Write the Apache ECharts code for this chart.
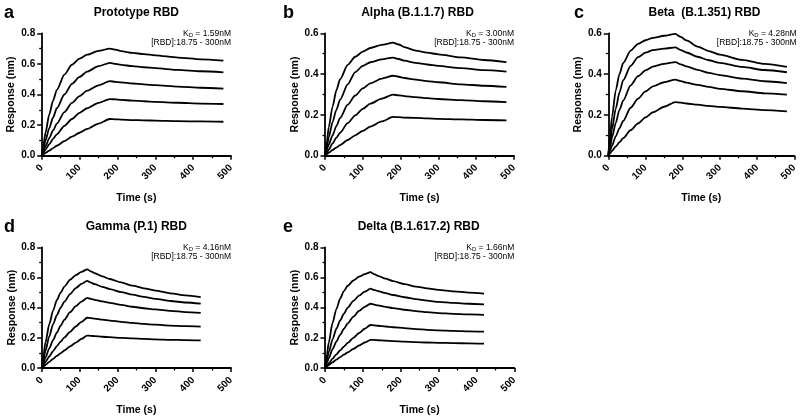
<!DOCTYPE html>
<html><head><meta charset="utf-8">
<script src="https://cdn.jsdelivr.net/npm/echarts@6/dist/echarts.min.js"></script>
<style>html,body{margin:0;padding:0;background:#fff}#c{width:800px;height:417px}</style>
</head><body><div id="c"></div>
<script>
// ---- time points (s) ----
const timesABC = [0,5,10,20,30,40,60,80,100,120,150,180,195,210,240,270,300,360,420,480];
const timesDE  = [0,5,10,20,30,40,50,60,75,90,105,120,130,140,160,180,210,240,270,300,340,380,420];

// ---- Response (nm), 5 RBD concentrations (300 -> 18.75 nM) ----
const prototypeRBD = [
  [0,0.08,0.15,0.27,0.36,0.43,0.53,0.595,0.635,0.66,0.685,0.70, 0.693,0.683,0.672,0.664,0.656,0.641,0.630,0.621],
  [0,0.05,0.10,0.18,0.25,0.31,0.40,0.47,0.515,0.55,0.585,0.607, 0.600,0.594,0.585,0.578,0.572,0.561,0.552,0.545],
  [0,0.03,0.06,0.115,0.165,0.21,0.285,0.345,0.39,0.425,0.46,0.487, 0.483,0.479,0.472,0.466,0.461,0.452,0.444,0.438],
  [0,0.02,0.04,0.075,0.11,0.14,0.195,0.24,0.28,0.31,0.345,0.37, 0.368,0.365,0.360,0.356,0.352,0.346,0.341,0.338],
  [0,0.01,0.018,0.033,0.05,0.065,0.095,0.125,0.15,0.175,0.21,0.24, 0.238,0.236,0.233,0.231,0.229,0.226,0.224,0.222]
];
const alphaRBD = [
  [0,0.07,0.14,0.24,0.32,0.375,0.445,0.485,0.51,0.528,0.543,0.554, 0.545,0.532,0.515,0.505,0.497,0.482,0.469,0.459],
  [0,0.045,0.09,0.165,0.225,0.275,0.35,0.41,0.44,0.458,0.472,0.481, 0.474,0.466,0.455,0.447,0.440,0.429,0.419,0.412],
  [0,0.03,0.055,0.10,0.145,0.185,0.25,0.295,0.33,0.355,0.378,0.392, 0.387,0.381,0.373,0.366,0.360,0.350,0.343,0.337],
  [0,0.015,0.03,0.06,0.088,0.113,0.16,0.198,0.23,0.255,0.28,0.299, 0.296,0.292,0.287,0.282,0.278,0.272,0.267,0.263],
  [0,0.008,0.015,0.028,0.04,0.052,0.077,0.10,0.122,0.143,0.168,0.19, 0.189,0.187,0.185,0.183,0.181,0.178,0.175,0.173]
];
const betaRBD = [
  [0,0.10,0.19,0.32,0.40,0.455,0.515,0.548,0.566,0.578,0.588,0.597, 0.582,0.565,0.535,0.513,0.495,0.470,0.450,0.435],
  [0,0.07,0.13,0.23,0.31,0.37,0.44,0.483,0.505,0.518,0.525,0.531, 0.518,0.506,0.485,0.468,0.455,0.435,0.420,0.409],
  [0,0.045,0.09,0.16,0.225,0.27,0.345,0.39,0.418,0.437,0.45,0.459, 0.448,0.438,0.421,0.406,0.395,0.378,0.365,0.356],
  [0,0.025,0.05,0.095,0.135,0.17,0.235,0.28,0.315,0.34,0.36,0.373, 0.366,0.358,0.347,0.337,0.328,0.316,0.306,0.299],
  [0,0.012,0.024,0.045,0.066,0.086,0.125,0.158,0.188,0.213,0.24,0.263, 0.260,0.256,0.250,0.244,0.239,0.231,0.223,0.217]
];
const gammaRBD = [
  [0,0.09,0.17,0.29,0.38,0.45,0.50,0.54,0.585,0.615,0.637,0.654, 0.640,0.628,0.607,0.590,0.567,0.546,0.528,0.513,0.495,0.481,0.470],
  [0,0.06,0.115,0.21,0.29,0.35,0.40,0.44,0.49,0.53,0.557,0.578, 0.566,0.556,0.538,0.523,0.503,0.486,0.471,0.458,0.444,0.434,0.426],
  [0,0.035,0.07,0.13,0.185,0.235,0.28,0.32,0.37,0.41,0.44,0.465, 0.458,0.452,0.441,0.431,0.418,0.406,0.396,0.388,0.379,0.371,0.365],
  [0,0.02,0.04,0.077,0.112,0.145,0.175,0.203,0.24,0.275,0.306,0.333, 0.330,0.327,0.320,0.314,0.306,0.299,0.292,0.287,0.281,0.277,0.274],
  [0,0.01,0.02,0.04,0.06,0.08,0.098,0.116,0.143,0.168,0.193,0.215, 0.213,0.211,0.207,0.204,0.200,0.196,0.193,0.190,0.187,0.185,0.183]
];
const deltaRBD = [
  [0,0.09,0.17,0.30,0.39,0.46,0.51,0.545,0.58,0.605,0.622,0.635, 0.622,0.611,0.592,0.576,0.556,0.540,0.528,0.518,0.508,0.500,0.493],
  [0,0.055,0.105,0.19,0.26,0.315,0.36,0.40,0.445,0.48,0.506,0.526, 0.517,0.510,0.496,0.484,0.469,0.456,0.446,0.438,0.431,0.426,0.422],
  [0,0.035,0.065,0.125,0.175,0.22,0.26,0.295,0.34,0.378,0.405,0.426, 0.420,0.415,0.405,0.397,0.386,0.377,0.370,0.364,0.359,0.355,0.352],
  [0,0.016,0.032,0.062,0.09,0.117,0.142,0.166,0.20,0.232,0.26,0.285, 0.283,0.280,0.275,0.270,0.264,0.258,0.253,0.249,0.246,0.243,0.241],
  [0,0.01,0.02,0.038,0.055,0.072,0.088,0.104,0.127,0.149,0.169,0.187, 0.186,0.184,0.181,0.178,0.175,0.172,0.169,0.167,0.165,0.163,0.161]
];

const panelLetters = ['a','b','c','d','e'];
const panelTitles = ['Prototype RBD','Alpha (B.1.1.7) RBD','Beta  (B.1.351) RBD','Gamma (P.1) RBD','Delta (B.1.617.2) RBD'];
const kdLabels = ['1.59nM','3.00nM','4.28nM','4.16nM','1.66nM'];
const concLabel = '[RBD]:18.75 - 300nM';
const yMaxes = [0.8, 0.6, 0.6, 0.8, 0.8];
const xTicks = [0,100,200,300,400,500];
const yLabelName = 'Response (nm)';
const xLabelName = 'Time (s)';

const panelData = [prototypeRBD, alphaRBD, betaRBD, gammaRBD, deltaRBD];
const panelTimes = [timesABC, timesABC, timesABC, timesDE, timesDE];

// ---- layout ----
const FONT = '"Liberation Sans", Arial, sans-serif';
const grids = [
  {left:41.7, top:33.3, width:189.3, height:122.4},
  {left:325, top:33.3, width:189, height:122.4},
  {left:608.3, top:33.3, width:188.4, height:122.4},
  {left:41.7, top:247.3, width:189.3, height:122.7},
  {left:325, top:247.3, width:189.3, height:122.7}
];
const yNameGap = [25, 23, 24, 24.5, 23.5];

const xAxes = [], yAxes = [], series = [], graphics = [];
grids.forEach((g, i) => {
  xAxes.push({
    type:'value', gridIndex:i, min:xTicks[0], max:xTicks[xTicks.length-1], interval:100, offset:4,
    name:xLabelName, nameLocation:'middle', nameGap:33,
    nameTextStyle:{fontFamily:FONT, fontWeight:'bold', fontSize:10.5, color:'#000'},
    axisLine:{show:true, lineStyle:{color:'#000', width:1.8}},
    axisTick:{show:true, length:4, lineStyle:{color:'#000', width:1.5}},
    minorTick:{show:true, splitNumber:2, length:2.5, lineStyle:{color:'#000', width:1.3}},
    splitLine:{show:false}, minorSplitLine:{show:false},
    axisLabel:{rotate:45, margin:6.5, fontFamily:FONT, fontWeight:'bold', fontSize:10, color:'#000', showMinLabel:true, showMaxLabel:true}
  });
  yAxes.push({
    type:'value', gridIndex:i, min:0, max:yMaxes[i], interval:0.2,
    name:yLabelName, nameLocation:'middle', nameGap:yNameGap[i],
    nameTextStyle:{fontFamily:FONT, fontWeight:'bold', fontSize:10.5, color:'#000'},
    axisLine:{show:true, lineStyle:{color:'#000', width:1.8}},
    axisTick:{show:true, length:4.5, lineStyle:{color:'#000', width:1.5}},
    minorTick:{show:true, splitNumber:2, length:2.5, lineStyle:{color:'#000', width:1.3}},
    splitLine:{show:false}, minorSplitLine:{show:false},
    axisLabel:{margin:6.5, fontFamily:FONT, fontWeight:'bold', fontSize:10, color:'#000', formatter:v=>v.toFixed(1)}
  });
  panelData[i].forEach((curve) => {
    series.push({
      type:'line', xAxisIndex:i, yAxisIndex:i, showSymbol:false, smooth:0.25, smoothMonotone:'x',
      lineStyle:{color:'#000', width:1.8}, silent:true,
      data: curve.map((v, k) => [panelTimes[i][k], v])
    });
  });
  const right = g.left + g.width;
  const cx = g.left + g.width/2;
  const top = g.top;
  graphics.push({type:'text', x:[4,283,574,4,283][i], y:top-20,
    style:{text:panelLetters[i], font:'bold 18px '+FONT, fill:'#000', textAlign:'left', align:'left', textVerticalAlign:'middle', verticalAlign:'middle'}});
  graphics.push({type:'text', x:cx + [0,-2,2,0,-1][i], y:top-20.5,
    style:{text:panelTitles[i], font:'bold 12px '+FONT, fill:'#000', textAlign:'center', align:'center', textVerticalAlign:'middle', verticalAlign:'middle'}});
  graphics.push({type:'text', x:Math.min(right, 798), y:top+0.5,
    style:{text:'{n|K}{s|D}{n| = '+kdLabels[i]+'}', fill:'#000', textAlign:'right', align:'right', textVerticalAlign:'middle', verticalAlign:'middle',
      rich:{n:{fontSize:8.5, fontFamily:FONT, lineHeight:10, verticalAlign:'middle', fill:'#000'},
            s:{fontSize:6, fontFamily:FONT, lineHeight:4, verticalAlign:'bottom', fill:'#000'}}}});
  graphics.push({type:'text', x:Math.min(right, 799), y:top+9.7,
    style:{text:concLabel, font:'8.5px '+FONT, fill:'#000', textAlign:'right', align:'right', textVerticalAlign:'middle', verticalAlign:'middle'}});
});

const chart = echarts.init(document.getElementById('c'), null, {renderer:'canvas'});
chart.setOption({
  animation:false,
  backgroundColor:'#fff',
  grid: grids.map(g => Object.assign({containLabel:false}, g)),
  xAxis: xAxes, yAxis: yAxes, series: series, graphic: graphics
});
</script></body></html>
